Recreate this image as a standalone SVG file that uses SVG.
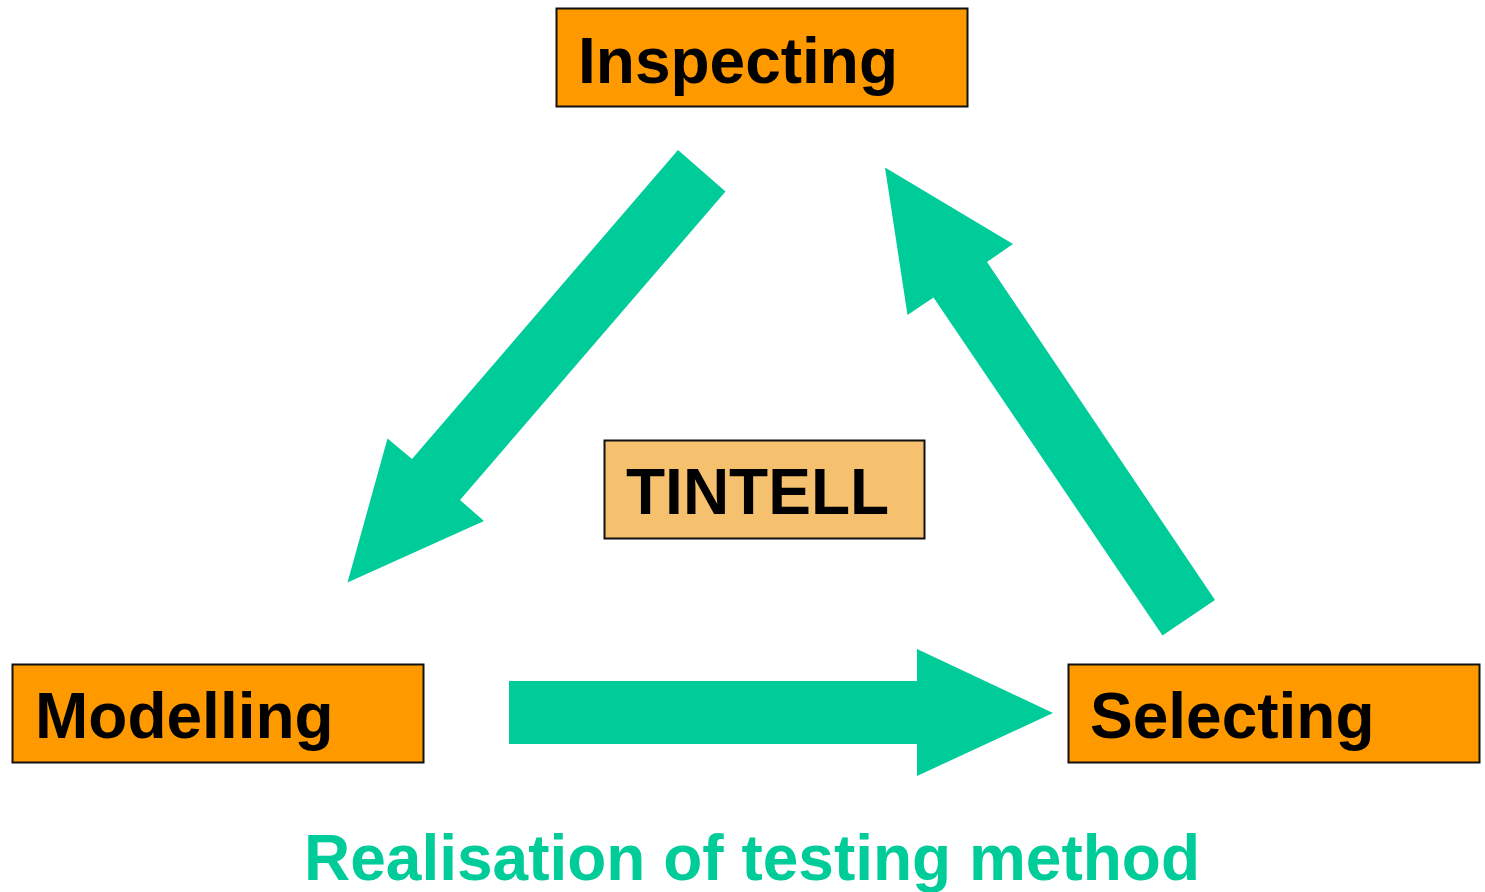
<svg xmlns="http://www.w3.org/2000/svg" width="1485" height="892" viewBox="0 0 1485 892">
<style>
.box{fill:#FF9900;stroke:#111;stroke-width:2}
.box2{fill:#F5C16E;stroke:#111;stroke-width:2}
.lbl{font-family:"Liberation Sans",Arial,sans-serif;font-weight:bold;font-size:64px;fill:#000}
.arr{fill:#00CC99;stroke:none}
.cap{font-family:"Liberation Sans",Arial,sans-serif;font-weight:bold;font-size:64px;fill:#00CC99}
</style>
<rect width="1485" height="892" fill="#fff"/>
<g id="connectors">
<polygon class="arr" points="678,150 725.5,191.5 460,500 484,521 347.5,582.5 387.5,438.5 412,459"/>
<polygon class="arr" points="1215,600 1162.5,635.5 933.5,297.5 907.5,315 885,167.5 1013,244 987,262"/>
<polygon class="arr" points="509,681 917,681 917,649 1053,713 917,776 917,744 509,744"/>
</g>
<g id="inspecting">
<rect class="box" x="556.5" y="8.5" width="411" height="98"/>
<text class="lbl" x="578" y="83">Inspecting</text>
</g>
<g id="modelling">
<rect class="box" x="12.5" y="664.5" width="411" height="98"/>
<text class="lbl" x="35" y="738">Modelling</text>
</g>
<g id="selecting">
<rect class="box" x="1068.5" y="664.5" width="411" height="98"/>
<text class="lbl" x="1090" y="738">Selecting</text>
</g>
<g id="tintell">
<rect class="box2" x="604.5" y="440.5" width="320" height="98"/>
<text class="lbl" x="626" y="514">TINTELL</text>
</g>
<g id="caption">
<text class="cap" x="752" y="880" text-anchor="middle">Realisation of testing method</text>
</g>
</svg>
